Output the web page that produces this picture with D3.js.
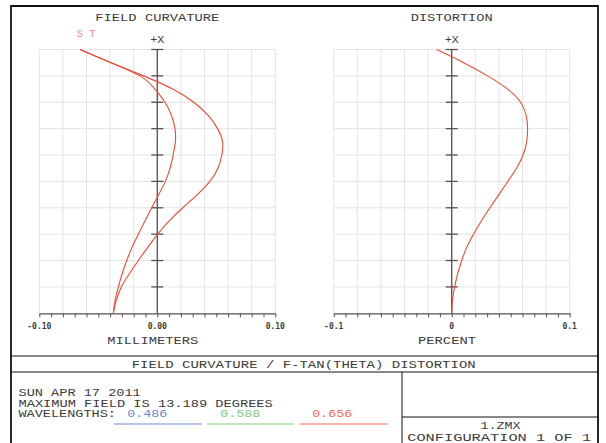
<!DOCTYPE html>
<html>
<head>
<meta charset="utf-8">
<script src="https://cdn.jsdelivr.net/npm/d3@7"></script>
<style>
  html, body { margin: 0; padding: 0; background: #fff; }
  svg { display: block; }
  text { font-family: "Liberation Mono", "DejaVu Sans Mono", monospace; fill: #3c3c3c; }
</style>
</head>
<body>
<svg id="chart" width="606" height="443"></svg>
<script>
// Relative field (0 = on axis, 1 = 13.189 deg), sampled every 0.05
const fields = [0, 0.05, 0.1, 0.15, 0.2, 0.25, 0.3, 0.35, 0.4, 0.45, 0.5,
                0.55, 0.6, 0.65, 0.7, 0.75, 0.8, 0.85, 0.9, 0.95, 1.0];

// Field curvature, millimetres
const sagittal = [-0.0373, -0.0357, -0.0330, -0.0298, -0.0259, -0.0214, -0.0161, -0.0105, -0.0047, 0.0012, 0.0068,
                  0.0108, 0.0134, 0.0153, 0.0150, 0.0120, 0.0065, -0.0020, -0.0147, -0.0392, -0.0655];
const tangential = [-0.0373, -0.0347, -0.0305, -0.0237, -0.0161, -0.0081, 0.0004, 0.0101, 0.0216, 0.0339, 0.0445,
                    0.0514, 0.0547, 0.0553, 0.0511, 0.0431, 0.0308, 0.0130, -0.0117, -0.0392, -0.0655];

// F-tan(theta) distortion, percent
const distortion = [0, 0.0007, 0.0025, 0.0051, 0.0085, 0.0127, 0.0185, 0.0251, 0.0324, 0.0400, 0.0476,
                    0.0549, 0.0605, 0.0635, 0.0643, 0.0631, 0.0584, 0.0474, 0.0304, 0.0101, -0.0128];

// Axis labels
const fcTickLabels = [[-0.1, "-0.10"], [0, "0.00"], [0.1, "0.10"]];
const distTickLabels = [[-0.1, "-0.1"], [0, "0"], [0.1, "0.1"]];

// Wavelengths (micrometres) listed in the footer
const wavelengths = ["0.486", "0.588", "0.656"];
const waveColors = ["#6b86cf", "#86c97a", "#ef6a55"];

const svg = d3.select("#chart");
const curveColor = "#ee4a34";
const gridColor = "#e4e4e4";
const axisColor = "#5b4f4f";

const yField = d3.scaleLinear().domain([0, 1]).range([313.3, 49.5]);

function panel(x0, x1, titleText, labels, series) {
  const x = d3.scaleLinear().domain([-0.1, 0.1]).range([x0, x1]);
  const g = svg.append("g");

  // grid
  const gx = d3.range(-0.1, 0.1001, 0.02);
  const gy = d3.range(0.1, 1.0001, 0.1);
  g.selectAll(".vg").data(gx).join("line")
    .attr("x1", d => x(d)).attr("x2", d => x(d))
    .attr("y1", yField(0)).attr("y2", yField(1))
    .attr("stroke", gridColor).attr("stroke-width", 1);
  g.selectAll(".hg").data(gy).join("line")
    .attr("x1", x(-0.1)).attr("x2", x(0.1))
    .attr("y1", d => yField(d)).attr("y2", d => yField(d))
    .attr("stroke", gridColor).attr("stroke-width", 1);

  // bottom axis with minor ticks
  const axis = d3.axisBottom(x)
    .tickValues(d3.range(-0.1, 0.1001, 0.01))
    .tickSize(4).tickSizeOuter(0).tickFormat("");
  const ax = g.append("g").attr("transform", `translate(0,${yField(0)})`).call(axis);
  ax.select(".domain").attr("stroke", axisColor).attr("stroke-width", 1.3);
  ax.selectAll(".tick line").attr("stroke", axisColor).attr("stroke-width", 1);

  // centre field axis
  g.append("line")
    .attr("x1", x(0)).attr("x2", x(0))
    .attr("y1", yField(0)).attr("y2", yField(1))
    .attr("stroke", axisColor).attr("stroke-width", 1.3);
  g.selectAll(".ft").data(gy).join("line")
    .attr("x1", x(0) - 6).attr("x2", x(0) + 6)
    .attr("y1", d => yField(d)).attr("y2", d => yField(d))
    .attr("stroke", axisColor).attr("stroke-width", 1.3);

  // tick labels
  g.selectAll(".tl").data(labels).join("text")
    .attr("x", d => x(d[0])).attr("y", 329)
    .attr("text-anchor", "middle")
    .attr("font-size", 8).attr("font-weight", "bold")
    .style("font-family", "'DejaVu Sans Mono', monospace")
    .text(d => d[1]);

  // curves
  const line = d3.line()
    .x(d => x(d[1])).y(d => yField(d[0]))
    .curve(d3.curveNatural);
  series.forEach(vals => {
    g.append("path")
      .datum(fields.map((f, i) => [f, vals[i]]))
      .attr("fill", "none").attr("stroke", curveColor).attr("stroke-width", 1.1)
      .attr("d", line);
  });

  // titles
  g.append("text").attr("x", x(0)).attr("y", 20.7).attr("text-anchor", "middle")
    .attr("font-size", 11).attr("textLength", titleText.length * 8.4 - 2).attr("lengthAdjust", "spacingAndGlyphs")
    .text(titleText);
  g.append("text").attr("x", x(0)).attr("y", 42.7).attr("text-anchor", "middle")
    .attr("font-size", 11).attr("textLength", 14).attr("lengthAdjust", "spacingAndGlyphs")
    .text("+X");
  return x;
}

panel(39.3, 275.3, "FIELD CURVATURE", fcTickLabels, [sagittal, tangential]);
panel(333.7, 569.7, "DISTORTION", distTickLabels, [distortion]);

// unit labels
svg.append("text").attr("x", 152.8).attr("y", 343.5).attr("text-anchor", "middle")
  .attr("font-size", 11.5).attr("textLength", 91).attr("lengthAdjust", "spacingAndGlyphs").text("MILLIMETERS");
svg.append("text").attr("x", 447).attr("y", 343.5).attr("text-anchor", "middle")
  .attr("font-size", 11.5).attr("textLength", 58).attr("lengthAdjust", "spacingAndGlyphs").text("PERCENT");

// S / T legend
svg.append("text").attr("x", 76.7).attr("y", 36.7)
  .attr("font-size", 11).attr("textLength", 19).attr("lengthAdjust", "spacingAndGlyphs")
  .style("fill", "#f08a78").text("S T");

// frame
const frame = svg.append("g").attr("stroke", "#111").attr("fill", "none");
frame.append("path").attr("d", "M11,450 V6 H598 V450").attr("stroke-width", 1.8);
frame.append("line").attr("x1", 11).attr("x2", 598).attr("y1", 356).attr("y2", 356).attr("stroke-width", 1);
frame.append("line").attr("x1", 11).attr("x2", 598).attr("y1", 372).attr("y2", 372).attr("stroke-width", 1);
frame.append("line").attr("x1", 402).attr("x2", 402).attr("y1", 372).attr("y2", 450).attr("stroke-width", 1);
frame.append("line").attr("x1", 402).attr("x2", 598).attr("y1", 417).attr("y2", 417).attr("stroke-width", 1);

// footer text
svg.append("text").attr("x", 303.7).attr("y", 368.3).attr("text-anchor", "middle")
  .attr("font-size", 11).attr("textLength", 344).attr("lengthAdjust", "spacingAndGlyphs")
  .text("FIELD CURVATURE / F-TAN(THETA) DISTORTION");
const info = [["SUN APR 17 2011", 396], ["MAXIMUM FIELD IS 13.189 DEGREES", 406.8], ["WAVELENGTHS:", 417.3]];
svg.selectAll(".info").data(info).join("text")
  .attr("x", 18.5).attr("y", d => d[1])
  .attr("font-size", 10).attr("textLength", d => d[0].length * 8.25 - 1.5).attr("lengthAdjust", "spacingAndGlyphs")
  .text(d => d[0]);

const wx = [127.2, 220.3, 312.3];
const ux = [[114, 202], [207, 294.5], [299.6, 387.3]];
wavelengths.forEach((w, i) => {
  svg.append("text").attr("x", wx[i]).attr("y", 417.3)
    .attr("font-size", 10).attr("textLength", 40).attr("lengthAdjust", "spacingAndGlyphs")
    .style("fill", waveColors[i]).text(w);
  svg.append("line").attr("x1", ux[i][0]).attr("x2", ux[i][1]).attr("y1", 424).attr("y2", 424)
    .attr("stroke", waveColors[i]).attr("stroke-width", 1);
});

svg.append("text").attr("x", 500.6).attr("y", 429.3).attr("text-anchor", "middle")
  .attr("font-size", 11).attr("textLength", 40).attr("lengthAdjust", "spacingAndGlyphs").text("1.ZMX");
svg.append("text").attr("x", 499.2).attr("y", 441).attr("text-anchor", "middle")
  .attr("font-size", 11).attr("textLength", 184).attr("lengthAdjust", "spacingAndGlyphs").text("CONFIGURATION 1 OF 1");
</script>
</body>
</html>
